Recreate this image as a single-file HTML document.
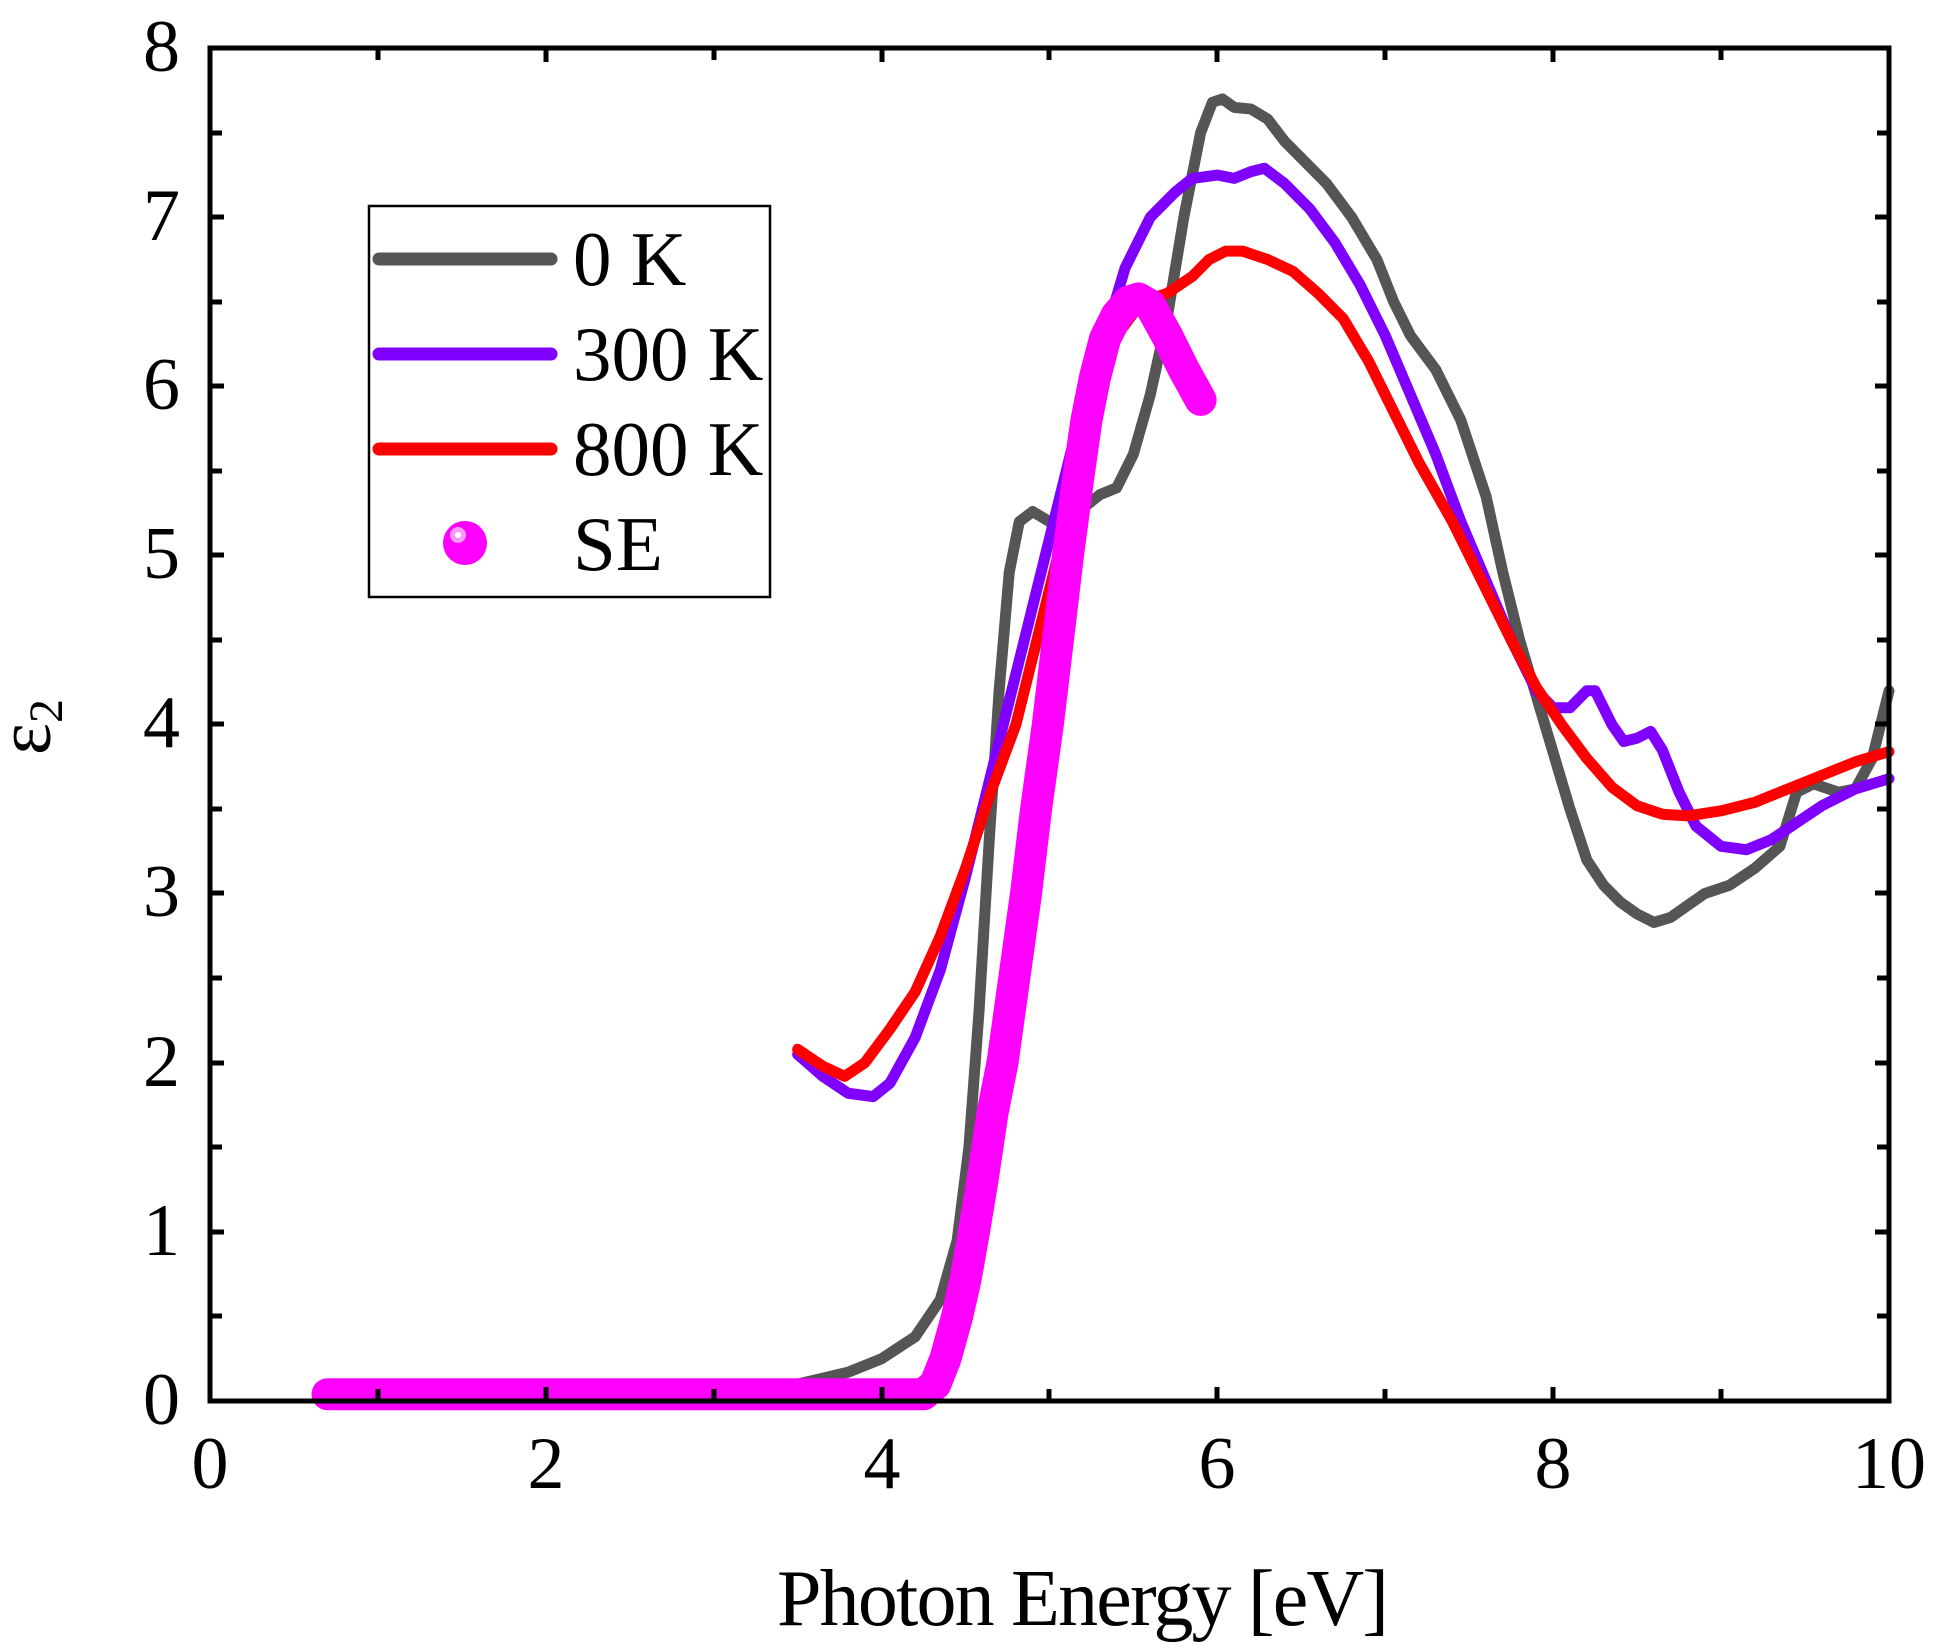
<!DOCTYPE html>
<html><head><meta charset="utf-8"><style>body{margin:0;background:#fff}svg{display:block}</style></head><body>
<svg width="1948" height="1652" viewBox="0 0 1948 1652" xmlns="http://www.w3.org/2000/svg" font-family="'Liberation Serif', serif">
<g transform="translate(210,1401) scale(167.9,-169.1)" fill="none" stroke-linejoin="round" stroke-linecap="round">
<polyline vector-effect="non-scaling-stroke" stroke="#555555" stroke-width="11" points="0.7,0.02 3.0,0.03 3.5,0.1 3.8,0.17 4.0,0.25 4.2,0.38 4.35,0.6 4.45,0.95 4.52,1.5 4.58,2.3 4.64,3.3 4.7,4.2 4.76,4.9 4.82,5.2 4.9,5.26 5.0,5.2 5.1,5.22 5.2,5.28 5.3,5.36 5.4,5.4 5.5,5.6 5.6,5.95 5.7,6.4 5.8,7.0 5.9,7.5 5.97,7.68 6.03,7.7 6.1,7.65 6.2,7.64 6.3,7.58 6.4,7.45 6.5,7.35 6.65,7.2 6.8,7.0 6.95,6.75 7.05,6.5 7.15,6.3 7.3,6.1 7.45,5.8 7.6,5.35 7.7,4.9 7.8,4.5 7.95,4.0 8.1,3.5 8.2,3.2 8.3,3.05 8.4,2.95 8.5,2.88 8.6,2.83 8.7,2.86 8.8,2.93 8.9,3.0 9.05,3.05 9.2,3.15 9.35,3.28 9.45,3.6 9.55,3.65 9.7,3.6 9.8,3.62 9.9,3.8 10,4.2"/>
<polyline vector-effect="non-scaling-stroke" stroke="#8000ff" stroke-width="11" points="3.5,2.05 3.65,1.92 3.8,1.82 3.95,1.8 4.05,1.88 4.2,2.15 4.35,2.55 4.5,3.1 4.65,3.7 4.8,4.3 5.0,5.1 5.15,5.7 5.3,6.2 5.45,6.7 5.6,7.0 5.75,7.15 5.85,7.23 6.0,7.25 6.1,7.23 6.2,7.27 6.28,7.29 6.4,7.2 6.55,7.05 6.7,6.85 6.85,6.6 7.0,6.3 7.15,5.95 7.3,5.6 7.45,5.2 7.6,4.85 7.75,4.5 7.9,4.2 8.0,4.1 8.1,4.1 8.2,4.2 8.25,4.2 8.35,4.0 8.42,3.9 8.5,3.92 8.58,3.96 8.65,3.85 8.75,3.6 8.85,3.4 9.0,3.28 9.15,3.26 9.3,3.32 9.45,3.42 9.6,3.52 9.8,3.62 10,3.68"/>
<polyline vector-effect="non-scaling-stroke" stroke="#ff0000" stroke-width="11" points="3.5,2.08 3.65,1.98 3.78,1.92 3.9,2.0 4.05,2.2 4.2,2.42 4.35,2.75 4.5,3.15 4.65,3.6 4.8,4.0 4.95,4.6 5.1,5.2 5.25,5.8 5.4,6.3 5.55,6.5 5.7,6.55 5.85,6.65 5.95,6.75 6.05,6.8 6.15,6.8 6.3,6.75 6.45,6.68 6.6,6.55 6.75,6.4 6.9,6.15 7.05,5.85 7.2,5.55 7.4,5.2 7.6,4.8 7.75,4.5 7.9,4.22 8.05,4.0 8.2,3.8 8.35,3.63 8.5,3.52 8.65,3.47 8.8,3.46 9.0,3.49 9.2,3.54 9.4,3.62 9.6,3.7 9.8,3.78 10,3.84"/>
<polyline vector-effect="non-scaling-stroke" stroke="#ff00ff" stroke-width="32" points="0.7,0.04 4.25,0.04 4.32,0.1 4.38,0.25 4.45,0.5 4.5,0.72 4.55,1.0 4.6,1.3 4.66,1.7 4.72,2.0 4.79,2.5 4.86,3.0 4.92,3.5 4.99,4.0 5.05,4.5 5.11,5.0 5.17,5.45 5.22,5.8 5.27,6.05 5.33,6.28 5.4,6.42 5.47,6.5 5.53,6.52 5.6,6.48 5.7,6.3 5.8,6.1 5.9,5.92"/>
</g>
<g stroke="#000" stroke-width="5" fill="none">
<rect x="210" y="48" width="1679" height="1353"/>
<path d="M378,1401v-12M378,48v12M546,1401v-14M546,48v14M714,1401v-12M714,48v12M882,1401v-14M882,48v14M1049,1401v-12M1049,48v12M1217,1401v-14M1217,48v14M1385,1401v-12M1385,48v12M1553,1401v-14M1553,48v14M1721,1401v-12M1721,48v12"/>
<path d="M210,1316h12M1889,1316h-12M210,1232h14M1889,1232h-14M210,1147h12M1889,1147h-12M210,1063h14M1889,1063h-14M210,978h12M1889,978h-12M210,893h14M1889,893h-14M210,809h12M1889,809h-12M210,724h14M1889,724h-14M210,640h12M1889,640h-12M210,555h14M1889,555h-14M210,471h12M1889,471h-12M210,386h14M1889,386h-14M210,302h12M1889,302h-12M210,217h14M1889,217h-14M210,133h12M1889,133h-12"/>
</g>
<g font-size="74" fill="#000" text-anchor="middle">
<text x="210" y="1488">0</text><text x="546" y="1488">2</text><text x="882" y="1488">4</text><text x="1217" y="1488">6</text><text x="1553" y="1488">8</text><text x="1889" y="1488">10</text>
</g>
<g font-size="74" fill="#000" text-anchor="end">
<text x="180" y="1424">0</text><text x="180" y="1255">1</text><text x="180" y="1086">2</text><text x="180" y="916">3</text><text x="180" y="747">4</text><text x="180" y="578">5</text><text x="180" y="409">6</text><text x="180" y="240">7</text><text x="180" y="71">8</text>
</g>
<text x="1083" y="1625" font-size="80" text-anchor="middle" textLength="612">Photon Energy [eV]</text>
<text transform="translate(50,727) rotate(-90)" font-size="76" text-anchor="middle">ε<tspan font-size="48" dy="12">2</tspan></text>
<rect x="369" y="206" width="401" height="391" fill="#fff" stroke="#000" stroke-width="2.5"/>
<g stroke-width="13" stroke-linecap="round">
<line x1="379" y1="259" x2="551" y2="259" stroke="#555555"/>
<line x1="379" y1="354" x2="551" y2="354" stroke="#8000ff"/>
<line x1="379" y1="449" x2="551" y2="449" stroke="#ff0000"/>
</g>
<circle cx="465" cy="543" r="22" fill="#ff00ff"/>
<circle cx="458" cy="535" r="8" fill="#ff99ff"/>
<circle cx="458" cy="535" r="3" fill="#fff"/>
<g font-size="77" fill="#000">
<text x="573" y="285">0 K</text><text x="573" y="380">300 K</text><text x="573" y="475">800 K</text><text x="573" y="570">SE</text>
</g>
</svg>
</body></html>
